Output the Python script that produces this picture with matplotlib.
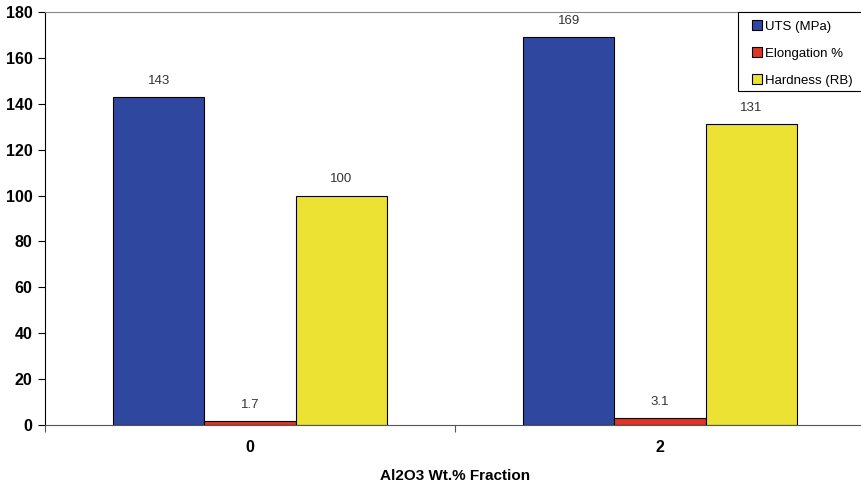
import matplotlib
matplotlib.use("Agg")
import matplotlib.pyplot as plt
from matplotlib.patches import Patch, Rectangle
import numpy as np

categories = ["0", "2"]
series_names = ["UTS (MPa)", "Elongation %", "Hardness (RB)"]
uts = [143, 169]
elongation = [1.7, 3.1]
hardness = [100, 131]
value_labels = [["143", "169"], ["1.7", "3.1"], ["100", "131"]]
colors = ["#3047A0", "#E03424", "#EBE234"]

plt.rcParams['font.family'] = ['Liberation Sans', 'DejaVu Sans']

W, H = 861, 486
fig = plt.figure(figsize=(W/100, H/100), dpi=100)
ax = fig.add_axes([45/W, 61/H, 820/W, 413/H])

x = np.arange(len(categories))
w = 0.222
series = [uts, elongation, hardness]
for i, (vals, c, labs) in enumerate(zip(series, colors, value_labels)):
    pos = x + (i - 1) * w
    bars = ax.bar(pos, vals, w, color=c, edgecolor="black", linewidth=0.8,
                  label=series_names[i], zorder=2)
    for b, lab in zip(bars, labs):
        ax.text(b.get_x() + b.get_width()/2, b.get_height() + 7.0, lab,
                ha="center", va="center", fontsize=9.5, color="#333333")

ax.set_xlim(-0.5, 1.5)
ax.set_ylim(0, 180)
ax.set_yticks(np.arange(0, 181, 20))
ax.set_xticks(x)
ax.set_xticklabels(categories, fontweight="bold", fontsize=11.5)
ax.set_xticks([-0.5, 0.5, 1.5], minor=True)
ax.tick_params(axis="x", which="major", length=0, pad=11)
ax.tick_params(axis="x", which="minor", length=5, width=0.8, color="#555555")
ax.tick_params(axis="y", length=5, width=0.8, pad=4)
for lab in ax.get_yticklabels():
    lab.set_fontweight("bold")
    lab.set_fontsize(11.5)

ax.spines["right"].set_visible(False)
ax.spines["top"].set_color("#888888")
ax.spines["top"].set_linewidth(0.8)
ax.spines["left"].set_linewidth(0.8)
ax.spines["bottom"].set_linewidth(0.8)
ax.spines["bottom"].set_color("#555555")

ax.set_xlabel("Al2O3 Wt.% Fraction", fontweight="bold", fontsize=11, labelpad=10)

# legend frame (extends past the right edge, as in the reference)
fig.patches.append(Rectangle((738/W, 1 - 91/H), 140/W, 79/H,
                             transform=fig.transFigure, facecolor="white",
                             edgecolor="black", linewidth=0.8, zorder=5))

handles = [Patch(facecolor=c, edgecolor="black", linewidth=0.8) for c in colors]
leg = fig.legend(handles, series_names, loc="upper left",
                 bbox_to_anchor=(745/W, 1 - 13/H), fontsize=9.5,
                 frameon=False,
                 handlelength=0.75, handleheight=0.75, handletextpad=0.25,
                 labelspacing=1.1, borderpad=0.55, borderaxespad=0)
leg.set_zorder(6)

fig.savefig("out.png", dpi=100)
